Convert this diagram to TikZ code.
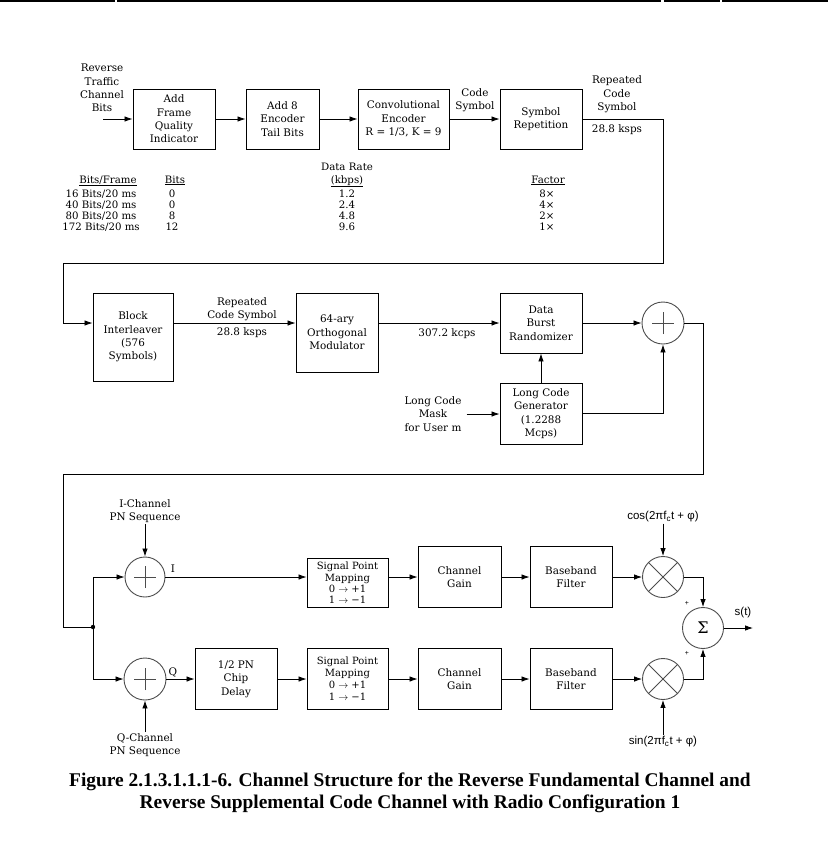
\documentclass[tikz,border=0pt]{standalone}
\usepackage{fontspec}
\setmainfont{DejaVu Serif}
\newfontfamily\labelsans{Liberation Sans}
\newfontfamily\capfont{Liberation Serif}
\usetikzlibrary{arrows.meta,positioning}
\newcommand\boxfont{\fontsize{10.4}{13.3}\selectfont}
\newcommand\tabfont{\fontsize{10.2}{11}\selectfont}
\tikzstyle{arrow} = [line width=0.8pt,-{Latex[length=8pt,width=5.5pt]}]
\tikzstyle{line} = [line width=0.8pt]
\tikzstyle{block} = [draw, line width=0.9pt, align=center, inner sep=0pt, font=\boxfont]
\tikzstyle{tag} = [align=center, inner sep=1pt, font=\boxfont]
\tikzstyle{tabtext} = [inner sep=0pt, anchor=base, font=\tabfont]
\tikzstyle{sans} = [inner sep=1pt, font=\labelsans\fontsize{11.5}{13}\selectfont]
\tikzstyle{circ} = [draw=black!70, line width=0.9pt, circle, minimum size=41pt, inner sep=0pt]
\tikzstyle{adder} = [circ, path picture={
  \draw[black!70, line width=0.9pt] (path picture bounding box.center) ++(-11pt,0) -- ++(22pt,0);
  \draw[black!70, line width=0.9pt] (path picture bounding box.center) ++(0,-11pt) -- ++(0,22pt);}]
\tikzstyle{mixer} = [circ, path picture={
  \draw[black!70, line width=0.9pt] (path picture bounding box.north west) -- (path picture bounding box.south east);
  \draw[black!70, line width=0.9pt] (path picture bounding box.south west) -- (path picture bounding box.north east);}]

\begin{document}
\begin{tikzpicture}[x=1pt,y=-1pt]
\useasboundingbox (0,0) rectangle (828,860);
% border lines left over from the page
\draw[line width=1.5pt] (0,1) -- (115,1) (117,1) -- (661,1) (664,1) -- (720,1) (722,1) -- (828,1);

% first row
\node[tag] (bits) at (102,88) {Reverse\\Traffic\\Channel\\Bits};
\coordinate (in) at (103,119);
\node[block, minimum width=82pt, minimum height=60pt] (fqi) at (174,119) {Add\\Frame\\Quality\\Indicator};
\node[block, minimum width=73pt, minimum height=60pt] (tail) at (282.5,119) {Add 8\\Encoder\\Tail Bits};
\node[block, minimum width=91pt, minimum height=60pt] (conv) at (403.5,119) {Convolutional\\Encoder\\R = 1/3, K = 9};
\node[block, minimum width=82pt, minimum height=60pt] (rep) at (541,119) {Symbol\\Repetition};
\node[tag] (codesym) at (475,100) {Code\\Symbol};
\node[tag] (repsym) at (617,94.5) {Repeated\\Code\\Symbol};
\node[tag] (rate1) at (617,130) {28.8 ksps};
\draw[arrow] (in) -- (fqi);
\draw[arrow] (fqi) -- (tail);
\draw[arrow] (tail) -- (conv);
\draw[arrow] (conv) -- (rep);

% table
\node[tabtext] (drhead) at (347,170) {Data Rate};
\node[tabtext] (h1) at (108,183) {\underline{Bits/Frame}};
\node[tabtext] (h2) at (175,183) {\underline{Bits}};
\node[tabtext] (h3) at (347,183) {\underline{(kbps)}};
\node[tabtext] (h4) at (548,183) {\underline{Factor}};
\foreach \fr/\bt/\dr/\fc [count=\i] in {16/0/1.2/8, 40/0/2.4/4, 80/8/4.8/2, 172/12/9.6/1}{
  \node[tabtext] (fr\i) at (101,{186+11*\i}) {\fr\ Bits/20 ms};
  \node[tabtext] (bt\i) at (172,{186+11*\i}) {\bt};
  \node[tabtext] (dr\i) at (347,{186+11*\i}) {\dr};
  \node[tabtext] (fc\i) at (547,{186+11*\i}) {\fc×};
}

% second row
\coordinate (t1) at (663,119);
\coordinate (t2) at (663,263);
\coordinate (t3) at (63,263);
\coordinate (t4) at (63,323);
\node[block, minimum width=80pt, minimum height=88pt] (intlv) at (133,337) {Block\\Interleaver\\(576\\Symbols)};
\node[block, minimum width=82pt, minimum height=79pt] (mod) at (337,332.5) {64-ary\\Orthogonal\\Modulator};
\node[block, minimum width=82pt, minimum height=60pt] (dbr) at (541,323) {Data\\Burst\\Randomizer};
\node[block, minimum width=82pt, minimum height=61pt] (lcg) at (541,413.5) {Long Code\\Generator\\(1.2288\\Mcps)};
\node[adder, minimum size=42pt] (addL) at (663,323) {};
\node[tag] (repsym2) at (242,309) {Repeated\\Code Symbol};
\node[tag] (rate2) at (242,333) {28.8 ksps};
\node[tag] (rate3) at (447,334) {307.2 kcps};
\node[tag, inner sep=5pt] (mask) at (433,414) {Long Code\\Mask\\for User m};
\draw[arrow] (rep) -- (t1) -- (t2) -- (t3) -- (t4) -- (intlv.west |- t4);
\draw[arrow] (intlv.east |- t4) -- (mod.west |- t4);
\draw[arrow] (mod.east |- t4) -- (dbr);
\draw[arrow] (dbr) -- (addL);
\draw[arrow] (lcg) -- (dbr);
\draw[arrow] (lcg.east) -| (addL.south);
\draw[arrow] (mask.east) -- (lcg.west |- mask.east);

% third part
\coordinate (m1) at (703,323);
\coordinate (m2) at (703,474);
\coordinate (m3) at (63,474);
\coordinate (m4) at (63,627);
\coordinate (split) at (93,627);
\draw[line] (addL) -- (m1) -- (m2) -- (m3) -- (m4) -- (split);
\fill (split) circle (2.2pt);

\node[adder, minimum size=40pt] (addI) at (145,577) {};
\node[adder, minimum size=42pt] (addQ) at (145,679) {};
\node[tag] (pnI) at (145,511) {I-Channel\\PN Sequence};
\node[tag] (pnQ) at (145,745) {Q-Channel\\PN Sequence};
\node[tag] (ilab) at (173,569) {I};
\node[tag] (qlab) at (173,672) {Q};
\node[block, minimum width=81pt, minimum height=49pt, font=\fontsize{10}{11.3}\selectfont] (spmI) at (347.5,583) {Signal Point\\Mapping\\0 $\rightarrow$ +1\\1 $\rightarrow$ −1};
\node[block, minimum width=83pt, minimum height=61pt] (gainI) at (459.5,577) {Channel\\Gain};
\node[block, minimum width=82pt, minimum height=61pt] (bbfI) at (571,577) {Baseband\\Filter};
\node[block, minimum width=82pt, minimum height=61pt] (delay) at (236,679) {1/2 PN\\Chip\\Delay};
\node[block, minimum width=81pt, minimum height=61pt, font=\fontsize{10}{12}\selectfont] (spmQ) at (347.5,679) {Signal Point\\Mapping\\0 $\rightarrow$ +1\\1 $\rightarrow$ −1};
\node[block, minimum width=83pt, minimum height=61pt] (gainQ) at (459.5,679) {Channel\\Gain};
\node[block, minimum width=82pt, minimum height=61pt] (bbfQ) at (571,679) {Baseband\\Filter};
\node[mixer] (mulI) at (663,577) {};
\node[mixer] (mulQ) at (663,679) {};
\node[circ] (sum) at (703,628) {\fontsize{16}{16}\selectfont Σ};
\node[sans] (cos) at (663,517) {cos(2πf\textsubscript{c}t + φ)};
\node[sans] (sin) at (663,742) {sin(2πf\textsubscript{c}t + φ)};
\node[sans, font=\labelsans\fontsize{7}{8}\selectfont] (plusI) at (687,603) {+};
\node[sans, font=\labelsans\fontsize{7}{8}\selectfont] (plusQ) at (687,653) {+};
\node[sans] (st) at (743,613) {s(t)};
\coordinate (out) at (753,628);

\draw[arrow] (split) |- (addI);
\draw[arrow] (split) |- (addQ);
\draw[arrow] (pnI) -- (addI);
\draw[arrow] (pnQ) -- (addQ);
\draw[arrow] (addI) -- (spmI.west |- addI);
\draw[arrow] (spmI.east |- addI) -- (gainI);
\draw[arrow] (gainI) -- (bbfI);
\draw[arrow] (bbfI) -- (mulI);
\draw[arrow] (addQ) -- (delay);
\draw[arrow] (delay) -- (spmQ);
\draw[arrow] (spmQ) -- (gainQ);
\draw[arrow] (gainQ) -- (bbfQ);
\draw[arrow] (bbfQ) -- (mulQ);
\draw[arrow] (cos) -- (mulI);
\draw[arrow] (sin) -- (mulQ);
\draw[arrow] (mulI) -| (sum);
\draw[arrow] (mulQ) -| (sum);
\draw[arrow] (sum) -- (out);

% caption
\node[align=center, font=\capfont\bfseries\fontsize{19.4}{22}\selectfont] (caption) at (410,793)
  {Figure 2.1.3.1.1.1-6. Channel Structure for the Reverse Fundamental Channel and\\
   Reverse Supplemental Code Channel with Radio Configuration 1};
\end{tikzpicture}
\end{document}
